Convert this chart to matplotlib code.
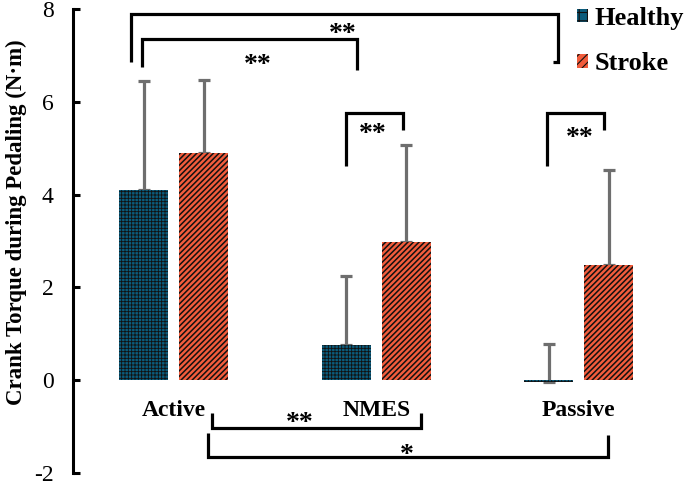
import matplotlib
matplotlib.use("Agg")
import matplotlib.pyplot as plt
from matplotlib.patches import Patch
import numpy as np

categories = ["Active", "NMES", "Passive"]
healthy_mean = [4.09, 0.75, -0.03]
stroke_mean = [4.89, 2.97, 2.48]
healthy_sd = [2.35, 1.49, 0.80]
stroke_sd = [1.59, 2.09, 2.04]
y_ticks = [-2, 0, 2, 4, 6, 8]
series_names = ["Healthy", "Stroke"]

healthy_color = "#0b5c7c"
stroke_color = "#f25c3c"
err_color = "#6e6e6e"

plt.rcParams["font.family"] = ["Liberation Serif", "DejaVu Serif"]
plt.rcParams["hatch.color"] = "#111111"

fig = plt.figure(figsize=(6.85, 4.82), dpi=100)
ax = fig.add_axes([73 / 685, 9 / 482, (660 - 73) / 685, 464 / 482])

x = np.arange(len(categories))
w = 0.242
off = 0.149

plt.rcParams["hatch.linewidth"] = 0.6
b1 = ax.bar(x - off, healthy_mean, w, color=healthy_color, hatch="+++++",
            edgecolor="#111111", linewidth=0, zorder=3)
plt.rcParams["hatch.linewidth"] = 1.1
b2 = ax.bar(x + off, stroke_mean, w, color=stroke_color, hatch="//////",
            edgecolor="#111111", linewidth=0, zorder=3)

ax.errorbar(x - off, healthy_mean, yerr=[np.zeros(3), healthy_sd], fmt="none",
            ecolor=err_color, elinewidth=2.3, capsize=4.5, capthick=2.3, zorder=2)
ax.errorbar(x + off, stroke_mean, yerr=[np.zeros(3), stroke_sd], fmt="none",
            ecolor=err_color, elinewidth=2.3, capsize=4.5, capthick=2.3, zorder=2)

ax.set_ylim(-2, 8)
ax.set_xlim((73 - 173.75) / 202.5, (660 - 173.75) / 202.5)
ax.set_yticks(y_ticks)
ax.set_yticklabels([str(t) for t in y_ticks], fontsize=17)
ax.set_xticks([])
for s in ("top", "right", "bottom"):
    ax.spines[s].set_visible(False)
ax.spines["left"].set_linewidth(2.2)
ax.tick_params(axis="y", direction="in", length=5, width=2.2, pad=14)
ax.set_ylabel("Crank Torque during Pedaling (N\u00b7m)", fontsize=16.5,
              fontweight="bold")
ax.yaxis.set_label_coords(-46 / 587, (473 - 222) / 464)

for xi, c in zip(x, categories):
    ax.text(xi, -0.65, c, ha="center", va="center", fontsize=17, fontweight="bold")

lw = 2.3
def bracket(xs, ys):
    ax.plot(xs, ys, color="black", lw=lw, clip_on=False, solid_capstyle="butt",
            solid_joinstyle="miter", zorder=4)

# top brackets
bracket([-0.211, -0.211, 1.898, 1.898, 1.874], [6.85, 7.89, 7.89, 6.85, 6.85])
bracket([-0.157, -0.157, 0.905, 0.905], [6.75, 7.35, 7.35, 6.68])
bracket([0.851, 0.851, 1.132, 1.132], [4.61, 5.75, 5.75, 5.39])
bracket([1.843, 1.843, 2.125, 2.125], [4.61, 5.75, 5.75, 5.39])
# bottom brackets
bracket([0.189, 0.189, 1.221, 1.221], [-0.71, -1.03, -1.03, -0.71])
bracket([0.169, 0.169, 2.144, 2.144], [-1.14, -1.66, -1.66, -1.19])

star_kw = dict(ha="center", va="center", fontsize=20, fontweight="bold", zorder=5)
ax.text(0.836, 7.45, "**", **star_kw)
ax.text(0.416, 6.78, "**", **star_kw)
ax.text(0.984, 5.29, "**", **star_kw)
ax.text(2.006, 5.20, "**", **star_kw)
ax.text(0.623, -0.94, "**", **star_kw)
ax.text(1.152, -1.63, "*", **star_kw)

plt.rcParams["hatch.linewidth"] = 0.8
handles = [Patch(facecolor=healthy_color, hatch="++", edgecolor="#111111", linewidth=0),
           Patch(facecolor=stroke_color, hatch="////", edgecolor="#111111", linewidth=0)]
fig.legend(handles, series_names, loc="upper left", bbox_to_anchor=(577 / 685, 1 - 7 / 482),
           frameon=False, borderpad=0, borderaxespad=0,
           handlelength=0.4, handleheight=0.4, handletextpad=0.28,
           labelspacing=0.85, prop={"weight": "bold", "size": 19, "family": "Liberation Serif"})

fig.savefig("out.png", dpi=100)
